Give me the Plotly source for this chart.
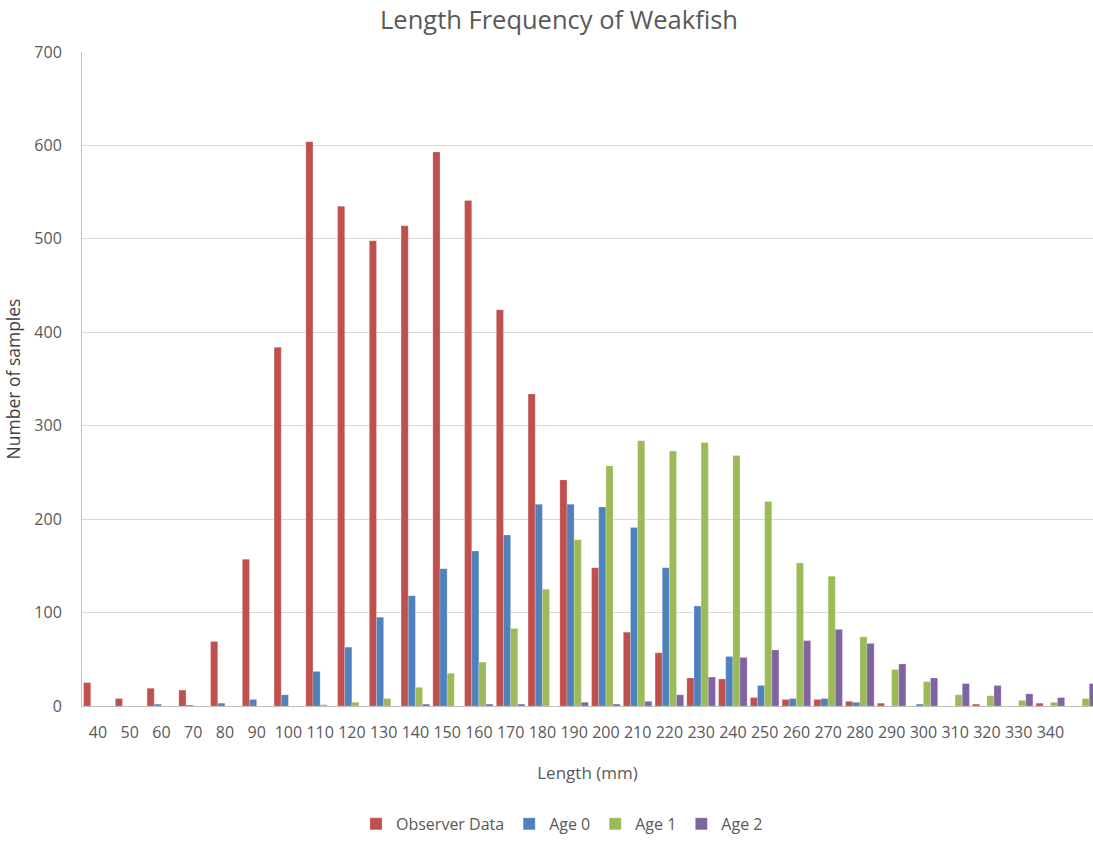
import plotly.graph_objects as go

lengths = list(range(40, 360, 10))  # 40 .. 350
tick_labels = [str(v) for v in range(40, 350, 10)]  # 40 .. 340

observer = [25, 8, 19, 17, 69, 157, 384, 604, 535, 498, 514, 593, 541, 424, 334,
            242, 148, 79, 57, 30, 29, 9, 7, 7, 5, 3, 0, 0, 2, 0, 3, 0]
age0 = [0, 0, 2, 1, 3, 7, 12, 37, 63, 95, 118, 147, 166, 183, 216,
        216, 213, 191, 148, 107, 53, 22, 8, 8, 4, 0, 2, 0, 0, 0, 0, 0]
age1 = [0, 0, 0, 0, 0, 0, 0, 1.5, 4, 8, 20, 35, 47, 83, 125,
        178, 257, 284, 273, 282, 268, 219, 153, 139, 74, 39, 26, 12, 11, 6, 4, 8]
age2 = [0, 0, 0, 0, 0, 0, 0, 0, 0, 0, 2, 0, 2, 2, 0,
        4, 2, 5, 12, 31, 52, 60, 70, 82, 67, 45, 30, 24, 22, 13, 9, 24]

series = [
    ("Observer Data", observer, "#C0504D"),
    ("Age 0", age0, "#4F81BD"),
    ("Age 1", age1, "#9BBB59"),
    ("Age 2", age2, "#8064A2"),
]

FONT = "Open Sans"
GREY = "#595959"

fig = go.Figure()
for name, vals, col in series:
    fig.add_trace(go.Bar(
        x=lengths, y=vals, name=name,
        marker=dict(color=col, line=dict(color="rgba(255,255,255,0.35)", width=0.6)),
    ))

# plot area: x from 82 to 1093 px; each 10 mm category ~31.75 px
px_per_unit = 3.175
plot_w = 1093 - 82
x0 = 35
x1 = x0 + plot_w / px_per_unit
plot_h = 841 - 52 - 129

fig.update_layout(
    width=1093, height=841, autosize=False,
    margin=dict(l=82, r=0, t=52, b=129),
    paper_bgcolor="white", plot_bgcolor="white",
    barmode="group", bargap=0.1, bargroupgap=0,
    font=dict(family=FONT, color=GREY, size=15),
    title=dict(text="Length Frequency of Weakfish", x=559 / 1093, xanchor="center",
               xref="container", y=1 - 20 / 841, yanchor="middle", yref="container",
               font=dict(size=25.5, color=GREY, family=FONT)),
    xaxis=dict(
        range=[x0, x1], tickmode="array", tickvals=list(range(40, 350, 10)),
        ticktext=tick_labels, showgrid=False, ticks="", zeroline=False,
        showline=True, linecolor="#bfbfbf", linewidth=1,
        tickfont=dict(size=16, color=GREY), ticklabelstandoff=12,
        title=dict(text="Length (mm)", font=dict(size=17, color=GREY), standoff=24),
    ),
    yaxis=dict(
        range=[0, 700], dtick=100, showgrid=True, gridcolor="#d9d9d9", gridwidth=1,
        zeroline=False, showline=True, linecolor="#bfbfbf", linewidth=1, ticks="",
        tickfont=dict(size=16, color=GREY), ticklabelstandoff=16,
        title=dict(text="Number of samples", font=dict(size=17.5, color="#404040"), standoff=9),
    ),
    legend=dict(orientation="h", x=(562 - 82) / plot_w, xanchor="center",
                y=-(828 - 712 + 3) / plot_h, yanchor="middle",
                font=dict(size=16, color=GREY), itemwidth=30, traceorder="normal"),
)

fig.write_html(
    "out.html",
    config={"displayModeBar": False},
    post_script="document.body.style.margin='0';document.body.style.overflow='hidden';",
)
